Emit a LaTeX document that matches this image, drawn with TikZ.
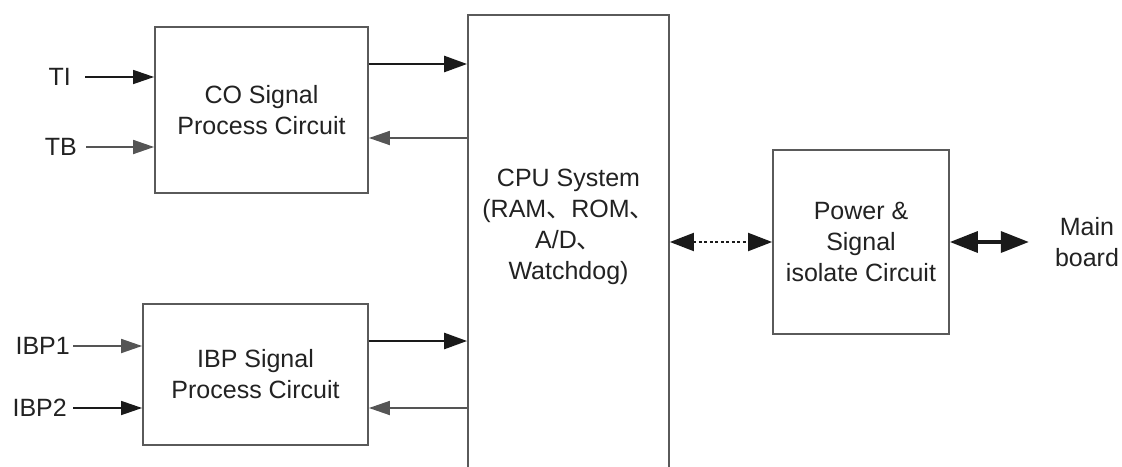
\documentclass[tikz,border=0pt]{standalone}
\usepackage{fontspec}
\setmainfont{Liberation Sans}
\newfontfamily\cjk{Noto Sans CJK SC}
\usetikzlibrary{arrows.meta}
\definecolor{boxc}{HTML}{5A5A5A}
\definecolor{txtc}{HTML}{222222}
\definecolor{arrc}{HTML}{1A1A1A}
\definecolor{arrl}{HTML}{555555}
\begin{document}
\begin{tikzpicture}[x=1pt,y=-1pt,
  every node/.style={font=\fontsize{25}{31}\selectfont, text=txtc},
  blk/.style={draw=boxc, line width=1.8pt, fill=white, align=center, inner sep=0pt},
  lbl/.style={inner sep=0pt, anchor=east},
  inarr/.style={draw=arrc, line width=1.6pt, -{Triangle[length=21pt,width=14pt]}},
  inarrl/.style={draw=arrl, line width=1.8pt, -{Triangle[length=21pt,width=14pt]}},
  fwd/.style={draw=arrc, line width=2.6pt, -{Triangle[length=23pt,width=16pt]}},
  back/.style={draw=arrl, line width=1.8pt, -{Triangle[length=21pt,width=14pt]}},
  dotarr/.style={draw=arrc, line width=2pt, dash pattern=on 3pt off 2.5pt, {Triangle[length=24pt,width=18pt]}-{Triangle[length=24pt,width=18pt]}},
  bigarr/.style={draw=arrc, line width=3.5pt, {Triangle[length=28pt,width=21pt]}-{Triangle[length=28pt,width=21pt]}}
]
\useasboundingbox (0,0) rectangle (1122,466);
\clip (0,0) rectangle (1122,466);

% blocks
\node[blk, minimum width=213pt, minimum height=166pt] (co) at (261.5,110) {CO Signal\\Process Circuit};
\node[blk, minimum width=225pt, minimum height=141pt] (ibp) at (255.5,374.5) {IBP Signal\\Process Circuit};
\node[blk, minimum width=201pt, minimum height=485pt] (cpu) at (568.5,257.5) {};
\node[align=center, inner sep=0pt] (cputxt) at (568.5,226.5) {CPU System\\(RAM{\cjk 、}ROM{\cjk 、}\\A/D{\cjk 、}\\Watchdog)};
\node[blk, minimum width=176pt, minimum height=184pt] (pw) at (861,242) {Power \&\\Signal\\isolate Circuit};
\node[align=center, inner sep=0pt] (mb) at (1087,242) {Main\\board};

% input labels
\node[lbl] (ti) at (71,77) {TI};
\node[lbl] (tb) at (77,147) {TB};
\node[lbl] (ibp1) at (70,346) {IBP1};
\node[lbl] (ibp2) at (67,408) {IBP2};

% y-levels
\coordinate (ya) at (0,64);
\coordinate (yb) at (0,138);
\coordinate (yc) at (0,341);
\coordinate (yd) at (0,408);
\coordinate (ye) at (0,242);

% inputs
\draw[inarr, shorten <=14pt] (ti.east) -- (ti.east -| co.west);
\draw[inarrl, shorten <=9pt] (tb.east) -- (tb.east -| co.west);
\draw[inarrl, shorten <=3pt] (ibp1.east) -- (ibp1.east -| ibp.west);
\draw[inarr, shorten <=6pt] (ibp2.east) -- (ibp2.east -| ibp.west);

% CO <-> CPU
\draw[fwd] (co.east |- ya) -- (cpu.west |- ya);
\draw[back] (cpu.west |- yb) -- (co.east |- yb);
% IBP <-> CPU
\draw[fwd] (ibp.east |- yc) -- (cpu.west |- yc);
\draw[back] (cpu.west |- yd) -- (ibp.east |- yd);

% CPU <-> Power
\draw[dotarr] (cpu.east |- ye) -- (pw.west |- ye);
% Power <-> Main board
\draw[bigarr, shorten >=26pt] (pw.east |- ye) -- (mb.west |- ye);
\end{tikzpicture}
\end{document}
